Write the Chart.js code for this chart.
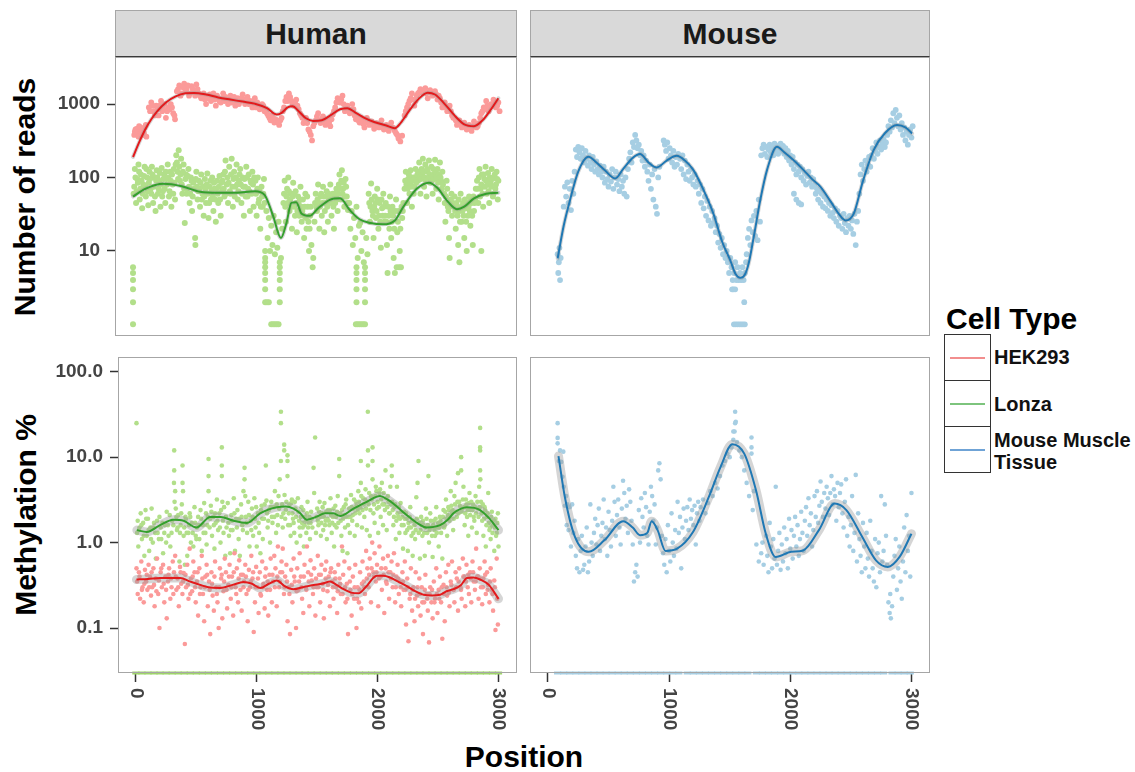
<!DOCTYPE html>
<html>
<head>
<meta charset="utf-8">
<script src="https://cdn.jsdelivr.net/npm/chart.js@4.4.1/dist/chart.umd.min.js"></script>
<style>
  body { margin:0; width:1135px; height:772px; background:#fff; position:relative; overflow:hidden;
         font-family:"Liberation Sans", Arial, Helvetica, sans-serif; font-weight:bold; color:#111; }
  .box { position:absolute; }
  .strip { position:absolute; top:10px; height:47px; box-sizing:border-box; background:#d9d9d9;
           border:1px solid #a6a6a6; border-bottom:1px solid #3a3a3a; font-size:30px; line-height:45px;
           text-align:center; color:#1a1a1a; }
  .ttl { position:absolute; font-size:30px; white-space:nowrap; color:#000; }
  .rot { transform:translate(-50%,-50%) rotate(-90deg); }
  .key { position:absolute; left:944px; width:47px; height:47px; box-sizing:border-box; border:1px solid #333; }
  .key i { position:absolute; left:5px; right:5px; top:22px; height:2px; }
  .lab { position:absolute; left:994px; font-size:20px; line-height:22px; white-space:nowrap; color:#111; }
</style>
</head>
<body>
<div class="strip" style="left:115px;width:402px">Human</div>
<div class="strip" style="left:530px;width:400px">Mouse</div>
<div class="ttl rot" style="left:25px;top:197px">Number of reads</div>
<div class="ttl rot" style="left:26px;top:515px">Methylation %</div>
<div class="ttl" style="left:524px;top:757px;transform:translate(-50%,-50%)">Position</div>

<div class="ttl" style="left:946px;top:302px">Cell Type</div>
<div class="key" style="top:334px"><i style="background:#f28e8e"></i></div>
<div class="key" style="top:380px"><i style="background:#7dc47d"></i></div>
<div class="key" style="top:426px"><i style="background:#6fa3d6"></i></div>
<div class="lab" style="top:346px">HEK293</div>
<div class="lab" style="top:393px">Lonza</div>
<div class="lab" style="top:429px">Mouse Muscle<br>Tissue</div>

<div class="box" style="left:20px;top:57px;width:497px;height:279px"><canvas id="tl"></canvas></div>
<div class="box" style="left:530px;top:57px;width:400px;height:279px"><canvas id="tr"></canvas></div>
<div class="box" style="left:20px;top:357px;width:497px;height:416px"><canvas id="bl"></canvas></div>
<div class="box" style="left:530px;top:357px;width:400px;height:416px"><canvas id="br"></canvas></div>

<script>
// tick labels
const posTicks = [0, 1000, 2000, 3000];
const readTicks = [10, 100, 1000];
const readTickLabels = ['10', '100', '1000'];
const methTicks = [0.1, 1, 10, 100];
const methTickLabels = ['0.1', '1.0', '10.0', '100.0'];

// Number of reads, Human / HEK293  [position, reads]
const hekReads = [[10,380],[20,450],[35,400],[50,500],[65,420],[80,380],[95,480],[110,360],
  [130,900],[150,1050],[170,800],[190,950],[210,700],[230,1100],[250,850],[270,650],[290,900],[310,1000],[330,750],[345,620],
  [360,1500],[380,1800],[400,1400],[420,1900],[440,1600],[460,1300],[480,1750],[500,1500],[520,1850],[540,1400],
  [560,1200],[580,1400],[600,1000],[620,1300],[640,1100],[660,1400],[680,950],[700,1200],[720,1050],[740,1400],[760,1250],
  [780,1000],[800,1300],[820,1150],[840,950],[860,1200],[880,1100],[900,1350],[920,1000],
  [940,1250],[960,1100],[980,900],[1000,1200],[1020,1050],[1040,850],[1060,1000],[1080,800],
  [1100,750],[1120,650],[1140,700],[1160,560],[1180,600],[1200,520],[1220,650],
  [1240,900],[1260,1250],[1280,1400],[1300,1100],[1320,950],[1340,1150],[1360,850],
  [1380,700],[1400,550],[1420,650],[1440,450],[1460,380],[1470,320],[1480,500],
  [1500,600],[1520,750],[1540,550],[1560,680],[1580,520],[1600,620],[1620,500],[1640,720],
  [1660,900],[1680,1200],[1700,1050],[1720,1300],[1740,800],[1760,950],[1780,750],[1800,1000],[1820,700],
  [1840,650],[1860,560],[1880,600],[1900,480],[1920,650],[1940,520],[1960,580],[1980,460],
  [2000,550],[2020,480],[2040,600],[2060,450],[2080,520],[2100,430],[2120,560],[2140,470],[2160,400],
  [2180,340],[2195,310],[2210,370],
  [2250,900],[2270,1100],[2290,1400],[2310,950],[2330,1300],
  [2360,1600],[2380,1400],[2400,1650],[2420,1200],[2440,1550],[2460,1300],[2480,1500],[2500,1150],
  [2520,1200],[2540,900],[2560,1050],[2580,800],[2600,950],[2620,700],
  [2640,650],[2660,520],[2680,600],[2700,480],[2720,560],[2740,450],
  [2760,520],[2780,430],[2800,580],[2820,480],[2840,550],
  [2860,750],[2880,900],[2900,1100],[2920,800],[2940,1000],[2960,1150],[2980,900],[3000,1050],[3010,800],
  [15,420],[30,460],[45,360],[60,480],[75,430],[90,400],[105,520],[140,800],[160,950],[180,700],[200,850],[220,950],
  [240,800],[260,1000],[280,800],[300,850],[320,900],[340,700],[370,1600],[390,1300],[410,1700],[430,1500],[450,1800],
  [470,1400],[490,1600],[510,1300],[530,1600],[550,1300],[570,1300],[590,1150],[610,1200],[630,1350],[650,1250],
  [670,1150],[690,1300],[710,1100],[730,1200],[750,1100],[770,1150],[790,1200],[810,1050],[830,1250],[850,1100],
  [870,1000],[890,1200],[910,1150],[930,1100],[950,1000],[970,1050],[990,1100],[1010,900],[1030,950],[1050,900],
  [1070,950],[1090,850],[1110,700],[1130,600],[1150,650],[1170,620],[1190,560],[1210,600],[1230,800],[1250,1100],
  [1270,1100],[1290,1250],[1310,1000],[1330,1050],[1350,950],[1370,750],[1390,650],[1410,600],[1430,550],[1450,420],
  [1490,550],[1510,680],[1530,600],[1550,620],[1570,580],[1590,560],[1610,560],[1630,620],[1650,800],[1670,1050],
  [1690,1100],[1710,1150],[1730,1000],[1750,850],[1770,850],[1790,800],[1810,850],[1830,620],[1850,600],[1870,650],
  [1890,540],[1910,560],[1930,600],[1950,540],[1970,520],[1990,500],[2010,520],[2030,540],[2050,500],[2070,480],
  [2090,470],[2110,500],[2130,480],[2150,430],[2170,380],[2230,700],[2240,800],[2260,1000],[2280,1200],[2300,1150],
  [2320,1100],[2340,1400],[2350,1450],[2370,1500],[2390,1500],[2410,1400],[2430,1450],[2450,1400],[2470,1400],
  [2490,1350],[2510,1300],[2530,1050],[2550,1000],[2570,900],[2590,850],[2610,800],[2630,650],[2650,600],[2670,560],
  [2690,540],[2710,500],[2730,500],[2750,480],[2770,470],[2790,500],[2810,520],[2830,500],[2850,650],[2870,800],
  [2890,850],[2910,950],[2930,900],[2950,950],[2970,1000],[2990,950]];

const hekReadsFit = [[0,190],[50,300],[100,450],[150,620],[200,800],[270,1050],[350,1270],[430,1400],[500,1420],
  [600,1350],[700,1230],[800,1150],[900,1080],[1000,1010],[1100,880],[1180,720],[1220,760],[1270,900],[1310,930],
  [1360,800],[1420,640],[1480,590],[1550,600],[1620,700],[1700,850],[1760,880],[1830,760],[1900,650],[1980,570],
  [2080,510],[2150,470],[2200,560],[2270,820],[2340,1150],[2420,1430],[2480,1350],[2560,1000],[2640,700],
  [2720,530],[2800,500],[2870,600],[2940,850],[3000,1200]];

// Number of reads, Human / Lonza
const lonzaReads = [[0,6],[0,5],[0,4],[0,3],[0,2],[0,1],
  [5,60],[15,130],[25,45],[35,95],[45,150],[55,50],[65,110],[75,38],[85,80],[95,140],[105,55],[115,100],[125,42],[135,120],
  [145,70],[155,140],[165,45],[175,100],[185,35],[195,125],[205,60],[215,90],[225,40],[235,135],[245,65],[255,110],[265,45],
  [275,95],[285,150],[295,55],[305,120],[315,40],[325,80],[335,130],[345,50],
  [355,200],[365,120],[375,235],[385,90],[395,180],[405,60],[415,150],[425,24],[435,110],
  [445,70],[455,130],[465,45],[475,100],[485,35],[495,85],[510,15],[512,12],[520,120],[530,50],[540,90],
  [550,40],[560,110],[570,60],[580,30],[590,95],[600,45],[610,113],[620,28],[630,75],[640,50],[650,100],[660,35],
  [670,70],[680,25],[690,90],[700,45],[710,105],[720,30],[730,65],
  [740,110],[750,55],[760,170],[770,80],[780,45],[790,140],[800,60],[810,180],[820,40],[830,120],[840,75],[850,150],[860,50],[870,90],
  [880,130],[890,45],[900,100],[910,30],[920,75],[930,140],[940,55],[950,110],[960,35],[970,85],[980,120],[990,40],
  [1005,90],[1015,30],[1025,100],[1035,50],[1045,20],[1055,75],[1065,40],[1075,95],
  [1085,10],[1085,8],[1085,7],[1085,6],[1085,5],[1085,4],[1085,3],[1085,2],[1100,2],[1115,2],
  [1135,1],[1150,1],[1165,1],[1180,1],[1195,1],[1205,7],[1205,6],[1205,5],[1205,4],[1205,3],[1205,2],
  [1095,35],[1105,15],[1115,28],[1125,10],[1135,22],[1145,12],[1155,30],[1165,9],[1175,18],[1185,11],[1195,25],[1215,8],[1225,20],
  [1235,45],[1245,90],[1255,25],[1265,70],[1275,100],[1285,35],[1295,60],[1305,20],[1315,85],[1325,40],[1335,65],[1345,18],[1355,55],[1365,30],
  [1375,75],[1385,25],[1395,50],[1405,15],[1415,60],[1425,20],[1435,40],[1445,10],[1455,30],[1465,12],[1475,6],[1480,8],
  [1490,25],[1500,60],[1510,35],[1520,80],[1530,20],[1540,55],[1550,30],[1560,75],[1570,18],[1580,45],[1590,65],[1600,25],
  [1610,50],[1620,80],[1630,30],[1640,60],[1650,20],[1660,45],[1670,70],[1680,35],
  [1695,110],[1705,50],[1715,125],[1725,70],[1735,40],[1745,95],[1755,55],[1765,36],
  [1775,45],[1785,20],[1795,35],[1805,12],[1815,28],[1825,15],[1835,40],[1845,8],[1855,22],
  [1835,6],[1835,5],[1835,4],[1835,3],[1835,2],[1905,6],[1905,5],[1905,4],[1905,3],[1905,2],
  [1830,1],[1845,1],[1860,1],[1875,1],[1890,1],[1905,1],
  [1865,24],[1875,10],[1885,18],[1895,7],[1915,15],[1925,9],
  [1935,60],[1945,25],[1955,83],[1965,35],[1975,15],[1985,55],[1995,28],[2005,70],[2015,20],[2025,45],[2035,11],[2045,38],[2055,60],
  [2065,25],[2075,45],[2085,12],[2090,5],[2100,30],[2110,55],[2120,15],[2130,40],[2140,8],[2150,5],[2160,50],[2165,6],
  [2170,18],[2180,35],[2185,6],[2190,10],[2200,6],[2210,28],[2220,45],
  [2230,70],[2240,120],[2250,45],[2260,95],[2270,60],[2280,125],[2290,40],[2300,100],[2310,75],[2320,130],
  [2340,90],[2350,160],[2360,60],[2370,130],[2380,180],[2390,75],[2400,150],[2410,55],[2420,120],[2430,170],[2440,85],
  [2450,140],[2460,60],[2470,110],[2480,175],[2490,70],[2500,130],[2510,50],[2520,160],[2530,90],[2540,120],
  [2555,60],[2565,25],[2575,90],[2585,40],[2595,15],[2600,8],[2610,50],[2620,30],
  [2640,55],[2650,20],[2660,40],[2670,12],[2680,35],[2680,7],[2690,60],[2700,25],[2710,45],[2720,15],[2730,38],[2740,10],
  [2750,30],[2760,55],[2770,22],[2780,45],[2790,12],[2800,35],[2810,50],[2860,10],
  [2825,90],[2835,45],[2845,130],[2855,70],[2865,110],[2875,40],[2885,95],[2895,140],[2905,60],[2915,115],[2925,45],
  [2935,85],[2945,130],[2955,55],[2965,100],[2975,70],[2985,120],[2995,50],[3000,90],
  [10,75],[20,100],[30,65],[40,85],[50,120],[60,70],[70,90],[80,60],[90,105],[100,75],[110,130],[120,65],[130,85],
  [140,95],[150,60],[160,110],[170,75],[180,55],[190,90],[200,100],[210,70],[220,115],[230,80],[240,55],[250,95],
  [260,70],[270,120],[280,80],[290,100],[300,65],[310,90],[320,110],[330,60],[340,85],[350,150],
  [360,160],[370,95],[380,140],[390,110],[400,80],[410,120],[420,70],[430,95],[440,60],[450,105],[460,75],[470,60],
  [480,90],[490,55],[500,70],[515,95],[525,75],[535,65],[545,70],[555,85],[565,50],[575,75],[585,55],[595,70],
  [605,80],[615,60],[625,45],[635,90],[645,65],[655,55],[665,85],[675,50],[685,70],[695,60],[705,75],[715,50],
  [725,85],[735,90],[745,70],[755,120],[765,60],[775,100],[785,85],[795,65],[805,110],[815,75],[825,95],[835,55],
  [845,100],[855,80],[865,65],[875,110],[885,80],[895,60],[905,75],[915,95],[925,55],[935,100],[945,70],[955,65],
  [965,90],[975,60],[985,80],[995,100],[1010,60],[1020,70],[1030,45],[1040,65],[1050,40],[1060,55],[1070,60],[1080,45],
  [1240,60],[1250,40],[1260,55],[1270,45],[1280,65],[1290,50],[1300,40],[1310,55],[1320,60],[1330,30],[1340,45],
  [1350,35],[1360,45],[1370,50],[1380,40],[1390,35],[1400,30],[1410,40],[1420,28],[1430,55],[1440,25],[1450,20],
  [1460,40],[1495,45],[1505,40],[1515,50],[1525,45],[1535,40],[1545,60],[1555,45],[1565,55],[1575,35],[1585,55],
  [1595,40],[1605,60],[1615,45],[1625,55],[1635,45],[1645,40],[1655,60],[1665,55],[1675,50],[1685,60],[1690,80],
  [1700,70],[1710,90],[1720,60],[1730,85],[1740,55],[1750,75],[1760,45],
  [1940,45],[1950,40],[1960,50],[1970,30],[1980,40],[1990,45],[2000,35],[2010,50],[2020,30],[2030,25],[2040,50],
  [2050,30],[2060,40],[2070,30],[2080,25],[2095,40],[2105,20],[2115,35],[2125,25],[2135,30],[2145,20],[2155,35],
  [2175,25],[2195,20],[2205,40],[2215,35],
  [2235,90],[2245,80],[2255,70],[2265,110],[2275,85],[2285,75],[2295,90],[2305,60],[2315,100],[2325,85],[2335,110],
  [2345,120],[2355,100],[2365,95],[2375,110],[2385,120],[2395,100],[2405,90],[2415,130],[2425,95],[2435,110],
  [2445,100],[2455,90],[2465,130],[2475,95],[2485,120],[2495,100],[2505,85],[2515,110],[2525,100],[2535,70],
  [2545,80],[2560,45],[2570,55],[2580,70],[2590,35],[2605,40],[2615,60],[2625,45],[2635,40],[2645,35],[2655,45],
  [2665,30],[2675,50],[2685,25],[2695,40],[2705,35],[2715,30],[2725,50],[2735,25],[2745,45],[2755,40],[2765,35],
  [2775,50],[2785,30],[2795,55],[2805,45],[2815,70],[2830,70],[2840,100],[2850,55],[2860,80],[2870,60],[2880,110],
  [2890,75],[2900,90],[2910,80],[2920,65],[2930,100],[2940,75],[2950,95],[2960,60],[2970,110],[2980,80],[2990,95]];

const lonzaReadsFit = [[0,55],[100,70],[250,82],[400,76],[550,64],[700,62],[850,62],[1000,65],[1080,58],[1150,30],
  [1215,15],[1260,24],[1300,45],[1340,46],[1385,32],[1450,30],[1520,38],[1620,50],[1700,52],[1780,36],[1860,27],
  [1950,24],[2050,23],[2150,26],[2220,40],[2330,70],[2430,85],[2500,72],[2580,48],[2660,37],[2720,40],[2800,52],
  [2900,60],[3000,62]];

// Number of reads, Mouse / Mouse Muscle Tissue
const mouseReads = [[80,9],[85,5],[90,7],[95,11],[100,4],[105,8],
  [130,40],[140,75],[150,55],[160,86],[170,45],[180,70],[190,36],[200,90],[210,60],[220,120],
  [230,240],[240,190],[250,260],[260,220],[270,180],[280,250],[290,200],[300,160],[310,230],[320,180],[330,145],
  [340,200],[350,160],[360,130],[370,190],[380,150],[390,120],[400,165],[410,130],[420,110],[430,145],[440,120],
  [450,100],[460,140],[470,85],[480,120],[490,95],[500,75],[510,110],[520,88],[530,130],[540,70],[550,100],[560,120],
  [570,80],[580,95],[590,65],[600,110],[610,75],[620,90],[630,60],[640,100],[650,55],
  [660,130],[670,180],[680,220],[690,160],[700,300],[710,260],[720,380],[730,320],[740,250],[750,280],[760,200],
  [770,230],[780,170],[790,200],[800,140],[810,170],
  [820,120],[830,90],[840,150],[850,70],[860,110],[870,50],[880,130],[890,40],[900,32],[910,100],[920,140],
  [955,320],[965,280],[975,230],[985,300],[995,180],[1005,250],[1015,200],[1025,160],[1035,230],[1045,140],
  [1055,190],[1065,150],[1075,210],
  [1090,180],[1100,130],[1110,200],[1120,110],[1130,170],[1140,95],[1150,150],[1160,120],[1170,90],[1180,130],
  [1190,100],[1200,80],[1210,110],[1220,75],
  [1235,90],[1245,60],[1255,80],[1265,45],[1275,70],[1285,38],[1295,55],[1305,30],[1315,48],[1325,26],[1335,40],
  [1345,22],[1355,35],[1365,24],
  [1375,28],[1385,18],[1395,22],[1405,13],[1415,17],[1425,11],[1435,15],[1445,9],[1455,12],[1465,8],[1475,10],
  [1485,7],[1495,5],[1505,8],[1515,6],[1525,4],[1535,5],[1545,7],[1555,4],[1565,6],[1575,4],[1585,5],[1595,4],
  [1605,6],[1615,4],[1625,5],[1635,7],
  [1520,3],[1530,3],[1545,3],[1620,2],[1535,1],[1550,1],[1565,1],[1580,1],[1595,1],[1610,1],[1625,1],
  [1640,9],[1650,15],[1660,20],[1670,12],[1680,26],[1690,18],[1700,30],[1710,16],[1720,35],[1730,14],[1740,50],[1750,25],
  [1760,200],[1770,250],[1780,280],[1790,210],[1800,260],[1810,190],[1820,240],[1830,280],[1840,220],[1850,260],
  [1860,200],[1870,290],[1880,230],[1890,270],[1900,210],[1910,250],[1920,290],[1930,230],[1940,270],[1950,210],
  [1960,250],[1970,190],
  [1980,230],[1990,170],[2000,200],[2010,150],[2020,190],[2030,130],[2040,160],[2050,110],[2060,150],[2070,120],
  [2080,140],[2090,100],[2100,130],[2110,90],[2120,115],[2130,80],[2140,105],[2150,120],[2160,85],[2170,100],
  [2180,75],[2190,95],[2030,60],[2050,50],[2070,45],[2090,43],
  [2200,80],[2210,60],[2220,70],[2230,50],[2240,65],[2250,45],[2260,60],[2270,40],[2280,55],[2290,38],[2300,50],
  [2310,35],[2320,45],[2330,30],[2340,42],[2350,33],[2360,28],[2370,38],[2380,25],[2390,35],[2400,22],[2410,30],
  [2420,28],[2430,20],[2440,32],[2450,24],[2460,18],[2470,28],[2480,22],[2490,30],[2500,20],[2510,26],[2520,17],
  [2530,32],[2540,12],[2550,25],[2560,35],
  [2570,60],[2580,110],[2590,150],[2600,90],[2610,130],[2620,170],[2630,120],[2640,150],[2650,190],[2660,140],
  [2670,200],[2680,250],[2690,180],[2700,230],[2710,300],[2720,210],[2730,260],[2740,320],[2750,240],[2760,280],
  [2770,330],[2780,260],[2790,300],
  [2800,380],[2810,500],[2820,420],[2830,600],[2840,480],[2850,750],[2860,550],[2870,830],[2880,650],[2890,500],
  [2900,700],[2910,450],[2920,550],[2930,380],[2940,480],[2950,320],[2960,420],[2970,280],[2980,380],[2990,450],
  [3000,350],[3010,500]];

const mouseReadsFit = [[80,7.9],[130,22],[182,49],[250,120],[333,191],[400,160],[470,125],[554,97],[620,130],
  [700,185],[760,208],[830,160],[898,137],[980,170],[1063,197],[1130,170],[1201,126],[1280,70],[1366,32],
  [1440,13],[1504,7.5],[1550,4.8],[1587,4.3],[1620,4.6],[1656,6.7],[1700,16],[1752,49],[1810,130],[1890,262],
  [1950,220],[2030,170],[2110,126],[2180,95],[2248,75],[2330,48],[2400,32],[2455,26],[2523,32],[2600,90],
  [2688,236],[2780,400],[2881,518],[2950,480],[3005,398]];

// Methylation %, Human / Lonza  [position, percent]
const lonzaMeth = [[5,25],[10,1.3],[15,1.8],[20,0.9],[30,1.5],[40,2.2],[50,1.1],[60,1.7],[70,0.7],[80,2.4],[90,1.2],
  [100,1.9],[110,0.8],[120,1.5],[130,2.5],[140,1.0],[150,1.7],[165,0.65],[180,1.3],[195,2.0],[210,1.1],[225,0.75],
  [240,1.6],[255,2.3],[270,1.2],[285,0.9],[300,1.8],[315,5],[317,7],[317,12],[320,3],[325,4],[330,2.5],[340,1.4],
  [350,2.1],[360,0.6],[370,1.6],[380,2.8],[386,5],[386,8],[390,4],[395,1.2],[405,0.55],[415,1.9],[425,0.7],[435,1.3],
  [445,2.2],[455,1.0],[465,1.7],[475,0.9],[485,2.6],[495,1.2],[505,1.5],[515,2.0],[525,1.1],[535,2.4],[545,0.8],
  [555,1.6],[565,2.9],[575,1.3],[585,0.95],[595,2.0],[601,4],[601,6],[601,9.5],[610,1.5],[620,2.7],[630,1.2],
  [640,2.0],[650,0.85],[660,1.7],[670,3.2],[680,1.4],[690,2.2],[700,1.0],[711,6],[711,8],[711,13],[715,3],[720,1.8],
  [730,2.6],[740,0.7],[750,1.5],[760,2.9],[770,1.2],[780,0.75],[790,2.1],[800,1.4],[810,3.3],[820,0.8],[830,1.9],
  [840,2.4],[850,1.1],[860,0.7],[870,2.8],[880,1.6],[890,4],[899,7.5],[899,5.5],[905,3.5],[910,2.0],[920,1.3],
  [930,3.0],[940,0.9],[950,1.8],[960,2.5],[970,1.2],[980,3.3],[990,1.5],[1000,0.9],[1010,2.2],[1020,1.3],[1030,0.75],
  [1040,2.7],[1050,1.1],[1060,1.9],[1075,8],[1080,3.1],[1090,1.5],[1100,2.4],[1110,1.0],[1120,3.0],[1130,1.7],
  [1140,2.6],[1150,4.0],[1160,1.3],[1170,2.1],[1180,3.5],[1190,5.5],[1200,9],[1200,25],[1200,34],[1205,2.0],
  [1215,1.5],[1227,12],[1227,14],[1230,3.6],[1240,2.4],[1254,6],[1254,9],[1254,10.5],[1260,1.6],[1270,2.8],
  [1280,1.2],[1290,3.2],[1300,1.9],[1310,1.3],[1320,2.5],[1330,1.0],[1340,3.3],[1350,1.8],[1360,1.2],[1370,2.6],
  [1380,1.5],[1390,0.9],[1400,2.0],[1410,1.3],[1420,3.0],[1430,1.7],[1440,1.1],[1450,2.3],[1460,1.5],[1470,7.5],
  [1475,3.8],[1483,17],[1490,1.3],[1500,2.5],[1510,1.6],[1520,3.0],[1530,1.2],[1540,2.2],[1550,1.4],[1560,2.9],
  [1570,1.8],[1580,1.1],[1590,2.4],[1600,1.6],[1610,3.3],[1620,1.3],[1630,2.0],[1640,0.9],[1650,2.7],[1660,1.5],
  [1670,3.5],[1682,9.5],[1682,6],[1690,2.2],[1700,1.2],[1710,0.8],[1720,2.6],[1730,1.5],[1740,3.2],[1750,0.75],
  [1760,2.0],[1770,1.3],[1780,3.6],[1790,1.8],[1800,2.5],[1810,1.2],[1820,3.0],[1830,1.6],[1840,4.0],[1850,2.2],
  [1861,9],[1861,5],[1870,1.5],[1880,3.3],[1890,2.0],[1900,4.2],[1910,1.4],[1919,34],[1920,12],[1920,8],[1925,2.8],
  [1935,1.2],[1945,3.5],[1958,13],[1958,9],[1958,5.5],[1965,2.2],[1975,1.7],[1985,4.5],[1995,2.5],[2005,1.3],
  [2015,3.8],[2025,2.0],[2035,5],[2045,1.6],[2055,2.8],[2065,7],[2075,1.4],[2085,3.5],[2095,2.2],[2105,4.5],
  [2117,6],[2117,8],[2120,3],[2130,1.6],[2140,2.6],[2150,1.1],[2160,4.5],[2170,2.0],[2180,1.3],[2190,2.9],
  [2200,1.6],[2210,0.85],[2220,2.3],[2230,1.3],[2240,1.9],[2250,0.8],[2260,1.5],[2270,2.6],[2280,1.2],[2290,0.7],
  [2300,1.8],[2310,1.1],[2320,3.4],[2330,5],[2338,9],[2340,1.3],[2350,0.65],[2360,2.0],[2370,1.2],[2380,1.6],
  [2390,0.7],[2400,2.5],[2410,1.3],[2420,6],[2425,1.0],[2435,2.2],[2445,1.5],[2455,0.68],[2465,1.8],[2475,1.2],
  [2485,2.6],[2495,1.5],[2505,0.9],[2515,2.0],[2525,1.3],[2535,0.65],[2545,2.4],[2555,1.6],[2565,3.2],[2575,1.2],
  [2585,2.6],[2595,1.8],[2605,4.0],[2615,2.2],[2625,1.4],[2635,3.5],[2645,5.0],[2655,2.0],[2665,6.5],[2675,3.0],
  [2691,10],[2691,7],[2700,2.5],[2710,4.5],[2720,1.6],[2730,3.2],[2740,2.0],[2750,1.2],[2760,3.8],[2770,2.4],
  [2780,1.5],[2790,2.8],[2800,1.8],[2810,3.5],[2820,1.3],[2830,2.5],[2840,4.5],[2848,22],[2848,12],[2848,13],
  [2848,7],[2850,5.5],[2855,3],[2865,1.8],[2875,1.2],[2885,2.6],[2895,0.9],[2905,2.0],[2915,3.8],[2925,1.4],
  [2935,1.1],[2945,2.3],[2955,1.6],[2965,0.8],[2975,1.9],[2985,1.3],[2995,2.2],[3000,0.9],
  [25,1.4],[45,1.6],[65,1.2],[85,1.9],[105,1.4],[125,1.1],[145,1.5],[160,1.3],[175,1.8],[190,1.1],[205,1.5],
  [220,1.7],[235,1.3],[250,1.0],[265,1.6],[280,2.1],[295,1.3],[310,1.6],[335,2.0],[345,1.5],[365,1.3],[375,2.2],
  [400,1.5],[410,2.0],[420,1.3],[440,1.6],[450,2.0],[470,1.3],[490,1.7],[500,1.1],[520,1.6],[540,1.9],[560,1.3],
  [580,2.2],[590,1.6],[615,1.9],[625,2.3],[645,1.6],[655,2.2],[675,1.8],[695,1.5],[705,2.4],[725,1.3],[745,2.0],
  [765,1.7],[785,1.4],[795,1.8],[815,2.2],[835,1.5],[855,1.9],[875,2.0],[885,1.4],[915,1.7],[935,2.1],[955,1.4],
  [965,2.0],[985,1.9],[995,2.6],[1015,1.7],[1035,2.4],[1045,1.9],[1065,2.8],[1085,2.2],[1095,1.8],[1115,2.6],
  [1125,2.0],[1145,2.0],[1165,2.8],[1175,1.6],[1185,2.5],[1210,2.8],[1220,2.2],[1235,1.9],[1245,3.0],[1265,2.2],
  [1275,1.6],[1285,2.9],[1295,2.2],[1305,1.7],[1315,3.0],[1325,2.0],[1345,2.3],[1355,1.5],[1365,2.0],[1375,1.7],
  [1385,2.4],[1395,1.6],[1405,1.8],[1415,2.2],[1425,1.5],[1435,2.0],[1445,1.7],[1455,1.9],[1495,2.0],[1505,1.8],
  [1515,2.3],[1525,2.0],[1535,1.7],[1545,2.6],[1555,2.0],[1565,1.6],[1575,2.3],[1585,1.9],[1595,1.8],[1605,2.4],
  [1615,2.1],[1625,1.7],[1635,2.5],[1645,1.6],[1655,2.0],[1665,2.3],[1675,1.7],[1695,1.8],[1705,2.4],[1715,1.9],
  [1725,2.1],[1735,2.8],[1745,2.0],[1755,1.6],[1765,2.5],[1775,2.0],[1785,2.6],[1795,2.1],[1805,3.2],[1815,2.2],
  [1825,2.7],[1835,2.4],[1845,3.0],[1855,2.6],[1865,3.5],[1875,2.4],[1885,2.8],[1895,3.2],[1905,2.5],[1915,3.0],
  [1930,3.8],[1940,2.4],[1950,3.2],[1970,2.8],[1980,3.5],[1990,4.0],[2000,3.0],[2010,2.6],[2020,4.2],[2030,3.2],
  [2040,2.8],[2050,3.8],[2060,2.4],[2070,3.3],[2080,2.6],[2090,3.0],[2100,2.2],[2110,2.8],[2125,2.4],[2135,2.0],
  [2145,2.8],[2155,1.8],[2165,2.2],[2175,2.6],[2185,1.9],[2195,2.3],[2205,2.0],[2215,1.6],[2225,1.9],[2235,2.2],
  [2245,1.4],[2255,1.7],[2265,2.0],[2275,1.5],[2285,1.8],[2295,1.3],[2305,1.6],[2315,1.4],[2325,1.9],[2345,1.7],
  [2355,1.4],[2365,1.6],[2375,1.8],[2385,1.3],[2395,1.5],[2405,1.9],[2415,1.6],[2430,1.4],[2440,1.8],[2450,1.2],
  [2460,1.6],[2470,1.4],[2480,1.9],[2490,1.3],[2500,1.7],[2510,1.5],[2520,1.8],[2530,1.6],[2540,2.0],[2550,1.5],
  [2560,2.3],[2570,1.9],[2580,2.1],[2590,2.4],[2600,2.0],[2610,2.7],[2620,2.4],[2630,1.9],[2640,2.8],[2650,2.3],
  [2660,3.0],[2670,2.2],[2680,2.7],[2695,2.3],[2705,3.2],[2715,2.6],[2725,2.2],[2735,2.8],[2745,2.4],[2755,2.9],
  [2765,2.1],[2775,3.0],[2785,2.4],[2795,2.0],[2805,2.6],[2815,2.2],[2825,3.0],[2835,2.0],[2845,2.6],[2860,2.2],
  [2870,2.8],[2880,1.9],[2890,2.4],[2900,1.6],[2910,2.2],[2920,1.7],[2930,1.5],[2940,2.0],[2950,1.3],[2960,1.8],
  [2970,1.5],[2980,1.2],[2990,1.7]];

// positions where Lonza methylation is 0 (drawn on the lower edge)
const lonzaMethZeros = [0,50,100,150,200,250,300,350,400,450,500,550,600,650,700,750,800,850,900,950,1000,1050,
  1100,1150,1200,1250,1300,1350,1400,1450,1500,1550,1600,1650,1700,1750,1800,1850,1900,1950,2000,2050,2100,2150,
  2200,2250,2300,2350,2400,2450,2500,2550,2600,2650,2700,2750,2800,2850,2900,2950,3000];

const lonzaMethFit = [[8,1.4],[90,1.33],[200,1.6],[310,1.85],[395,1.8],[500,1.5],[615,2.0],[700,2.0],[808,1.8],
  [918,1.7],[1028,2.2],[1100,2.45],[1166,2.6],[1240,2.65],[1304,2.5],[1360,2.2],[1414,1.85],[1490,2.0],[1566,2.2],
  [1630,2.2],[1690,2.05],[1800,2.5],[1910,3.0],[2020,3.5],[2080,3.2],[2131,2.85],[2200,2.35],[2269,1.95],[2340,1.65],
  [2407,1.5],[2517,1.6],[2580,1.85],[2627,2.2],[2690,2.5],[2738,2.6],[2800,2.55],[2848,2.4],[2920,1.95],[3000,1.4]];

// Methylation %, Human / HEK293
const hekMeth = [[5,0.5],[15,0.25],[25,0.45],[35,0.22],[45,0.6],[55,0.3],[65,0.2],[75,0.48],[85,0.35],[95,0.28],
  [105,0.55],[115,0.4],[125,0.24],[135,0.3],[145,0.5],[155,0.18],[165,0.38],[175,0.65],[185,0.25],[195,0.1],
  [205,0.45],[215,0.3],[225,0.55],[235,0.2],[245,0.4],[255,0.13],[265,0.35],[275,0.5],[285,0.22],[295,0.3],
  [305,0.6],[315,0.45],[325,0.7],[335,0.28],[345,0.38],[355,0.18],[365,0.52],[375,0.33],[385,0.25],[395,0.44],
  [405,0.065],[415,0.3],[425,0.55],[435,0.22],[445,0.85],[455,0.38],[465,0.27],[475,0.6],[485,0.45],[495,0.2],
  [505,0.35],[515,0.14],[525,0.5],[535,0.3],[545,0.7],[555,0.25],[565,0.12],[575,0.4],[585,0.55],[595,0.18],
  [605,0.35],[615,0.085],[625,0.45],[635,0.24],[645,0.16],[655,0.6],[665,0.3],[675,0.2],[685,0.1],[695,0.5],
  [705,0.38],[715,0.13],[725,0.27],[735,0.65],[745,0.45],[755,0.17],[765,0.32],[775,0.55],[785,0.22],[795,0.4],
  [805,0.14],[815,0.75],[825,0.3],[835,0.5],[845,0.2],[855,0.62],[865,0.28],[875,0.16],[885,0.42],[895,0.35],
  [905,0.55],[915,0.25],[925,0.12],[935,0.48],[945,0.3],[955,0.7],[965,0.38],[975,0.09],[985,0.2],[995,0.52],
  [1005,0.3],[1015,0.15],[1025,0.45],[1035,0.24],[1045,0.6],[1055,0.33],[1065,0.17],[1075,0.5],[1085,0.28],
  [1095,0.14],[1105,0.42],[1115,0.65],[1125,0.2],[1135,0.35],[1145,0.7],[1155,0.5],[1165,0.18],[1175,0.9],
  [1185,0.3],[1195,0.45],[1205,0.6],[1215,0.85],[1225,0.25],[1235,0.4],[1245,0.55],[1255,0.12],[1265,0.3],
  [1275,0.085],[1285,0.48],[1295,0.2],[1305,0.65],[1315,0.35],[1325,0.1],[1335,0.5],[1345,0.28],[1355,0.75],
  [1365,0.4],[1375,0.22],[1385,0.15],[1395,0.55],[1405,0.3],[1415,0.9],[1425,0.45],[1435,0.18],[1445,0.62],
  [1455,0.36],[1465,0.25],[1475,0.5],[1485,0.14],[1495,0.3],[1505,0.7],[1515,0.42],[1525,0.2],[1535,0.55],
  [1545,0.33],[1555,0.13],[1565,0.48],[1575,0.6],[1585,0.27],[1595,0.4],[1605,0.18],[1615,0.5],[1625,0.35],
  [1635,0.22],[1645,0.45],[1655,0.3],[1665,0.15],[1675,0.55],[1685,0.38],[1695,0.25],[1705,0.9],[1715,0.42],
  [1725,0.6],[1735,0.2],[1745,0.33],[1755,0.085],[1765,0.5],[1775,0.28],[1785,0.14],[1795,0.4],[1805,0.22],
  [1815,0.55],[1825,0.1],[1835,0.3],[1845,0.2],[1855,0.45],[1865,0.17],[1875,0.6],[1885,0.35],[1895,0.25],
  [1905,0.8],[1915,0.5],[1925,0.3],[1935,0.65],[1945,0.2],[1955,1.0],[1965,0.45],[1975,0.75],[1985,0.35],
  [1995,0.55],[2005,0.18],[2015,0.9],[2025,0.4],[2035,0.28],[2045,0.65],[2055,0.15],[2065,0.5],[2075,0.33],
  [2085,0.7],[2095,0.22],[2105,0.45],[2115,0.6],[2125,0.3],[2135,0.75],[2145,0.2],[2155,0.4],[2165,0.55],
  [2175,0.25],[2185,0.35],[2195,0.18],[2205,0.45],[2215,0.28],[2225,0.6],[2235,0.11],[2245,0.38],[2255,0.07],
  [2265,0.22],[2275,0.5],[2285,0.16],[2295,0.3],[2305,0.12],[2315,0.45],[2325,0.24],[2335,0.18],[2345,0.38],
  [2355,0.14],[2365,0.3],[2375,0.085],[2385,0.2],[2395,0.42],[2405,0.25],[2415,0.16],[2425,0.068],[2435,0.3],
  [2445,0.2],[2455,0.13],[2465,0.35],[2475,0.22],[2485,0.5],[2495,0.15],[2505,0.28],[2515,0.4],[2525,0.2],
  [2535,0.075],[2545,0.32],[2555,0.12],[2565,0.45],[2575,0.24],[2585,0.55],[2595,0.18],[2605,0.35],[2615,0.6],
  [2625,0.28],[2635,0.2],[2645,0.45],[2655,0.38],[2665,0.16],[2675,0.5],[2685,0.3],[2695,0.22],[2705,0.65],
  [2715,0.4],[2725,0.18],[2735,0.55],[2745,0.3],[2755,0.25],[2765,0.45],[2775,0.2],[2785,0.6],[2795,0.35],
  [2805,0.28],[2815,0.85],[2825,0.4],[2835,0.22],[2845,0.5],[2855,0.3],[2865,0.19],[2875,0.38],[2885,0.6],
  [2895,0.25],[2905,0.45],[2915,0.32],[2925,0.2],[2935,0.5],[2945,0.28],[2955,0.16],[2965,0.36],[2975,0.095],
  [2985,0.65],[2995,0.11],
  [10,0.35],[30,0.4],[50,0.28],[70,0.33],[90,0.42],[110,0.3],[130,0.45],[150,0.32],[170,0.27],[190,0.36],[210,0.5],
  [230,0.33],[250,0.28],[270,0.42],[290,0.38],[310,0.25],[330,0.4],[350,0.3],[370,0.45],[390,0.35],[410,0.42],
  [430,0.32],[450,0.25],[470,0.4],[490,0.3],[510,0.45],[530,0.25],[550,0.38],[570,0.3],[590,0.42],[610,0.28],
  [630,0.33],[650,0.4],[670,0.25],[690,0.3],[710,0.42],[730,0.35],[750,0.28],[770,0.4],[790,0.3],[810,0.45],
  [830,0.25],[850,0.38],[870,0.42],[890,0.3],[910,0.4],[930,0.28],[950,0.35],[970,0.45],[990,0.3],[1010,0.38],
  [1030,0.25],[1050,0.3],[1070,0.4],[1090,0.35],[1110,0.28],[1130,0.42],[1150,0.3],[1170,0.4],[1190,0.35],
  [1210,0.45],[1230,0.3],[1250,0.35],[1270,0.25],[1290,0.32],[1310,0.4],[1330,0.27],[1350,0.35],[1370,0.3],
  [1390,0.4],[1410,0.28],[1430,0.35],[1450,0.42],[1470,0.3],[1490,0.38],[1510,0.3],[1530,0.42],[1550,0.28],
  [1570,0.38],[1590,0.32],[1610,0.45],[1630,0.3],[1650,0.38],[1670,0.27],[1690,0.33],[1710,0.25],[1730,0.3],
  [1750,0.22],[1770,0.35],[1790,0.25],[1810,0.3],[1830,0.22],[1850,0.28],[1870,0.33],[1890,0.3],[1910,0.38],
  [1930,0.42],[1950,0.5],[1970,0.4],[1990,0.45],[2010,0.38],[2030,0.5],[2050,0.42],[2070,0.35],[2090,0.45],
  [2110,0.38],[2130,0.42],[2150,0.3],[2170,0.38],[2190,0.3],[2210,0.35],[2230,0.28],[2250,0.3],[2270,0.25],
  [2290,0.28],[2310,0.22],[2330,0.3],[2350,0.25],[2370,0.2],[2390,0.28],[2410,0.22],[2430,0.25],[2450,0.28],
  [2470,0.2],[2490,0.25],[2510,0.22],[2530,0.3],[2550,0.25],[2570,0.3],[2590,0.26],[2610,0.32],[2630,0.28],
  [2650,0.3],[2670,0.35],[2690,0.28],[2710,0.4],[2730,0.35],[2750,0.42],[2770,0.38],[2790,0.45],[2810,0.35],
  [2830,0.4],[2850,0.38],[2870,0.3],[2890,0.42],[2910,0.28],[2930,0.35],[2950,0.25],[2970,0.3],[2990,0.22]];

const hekMethFit = [[5,0.37],[100,0.375],[200,0.385],[367,0.385],[450,0.35],[532,0.32],[600,0.3],[698,0.295],
  [800,0.32],[890,0.345],[960,0.33],[1028,0.295],[1100,0.33],[1166,0.36],[1230,0.31],[1304,0.285],[1380,0.3],
  [1470,0.32],[1540,0.33],[1607,0.35],[1660,0.32],[1718,0.285],[1780,0.26],[1842,0.255],[1900,0.3],[1993,0.41],
  [2050,0.41],[2104,0.39],[2170,0.35],[2241,0.31],[2310,0.27],[2380,0.245],[2450,0.24],[2517,0.245],[2570,0.27],
  [2627,0.285],[2690,0.32],[2738,0.385],[2790,0.39],[2848,0.37],[2920,0.32],[3000,0.22]];

// Methylation %, Mouse / Mouse Muscle Tissue
const mouseMeth = [[80,25],[80,16.8],[80,14.5],[90,9],[100,12],[110,8.8],[120,5.9],[127,11.6],[130,4.5],[140,2.7],
  [150,3.5],[155,1.6],[160,2.8],[170,1.4],[180,2.6],[190,0.9],[200,2.8],[210,1.3],[220,1.8],[230,0.7],[240,0.5],
  [250,1.1],[260,0.45],[270,0.8],[280,1.2],[290,0.48],[300,0.55],[310,0.9],[320,1.5],[330,0.45],[340,0.6],[350,2.8],
  [360,1.0],[370,0.7],[380,1.3],[390,1.9],[400,0.95],[410,1.6],[420,2.5],[430,0.8],[440,1.2],[450,1.7],[460,3.2],
  [470,1.1],[480,1.5],[490,0.7],[500,2.3],[510,1.4],[520,0.9],[530,1.8],[540,4.5],[550,3],[560,1.2],[570,2.1],
  [580,3.2],[590,1.5],[600,0.95],[610,2.5],[620,5.3],[630,3.8],[640,1.9],[650,2.7],[660,1.3],[670,4.2],[680,3.0],
  [690,1.8],[700,0.95],[710,0.35],[720,0.45],[730,0.55],[740,0.4],[750,2.4],[760,1.0],[770,3.3],[780,2.0],[790,1.5],
  [800,3.8],[810,2.6],[820,1.2],[830,0.95],[840,2.3],[850,4.5],[860,3.5],[870,1.8],[880,2.8],[890,0.95],[900,1.5],
  [910,7],[920,8.5],[930,5.5],[940,1.2],[950,0.75],[960,0.55],[970,1.1],[980,0.45],[990,1.6],[1000,0.8],[1010,0.6],
  [1020,2.2],[1030,1.0],[1040,0.7],[1050,1.4],[1060,0.85],[1070,3.0],[1080,1.3],[1090,2.0],[1100,0.5],[1110,1.5],
  [1120,2.5],[1130,1.1],[1140,1.8],[1150,2.6],[1160,1.4],[1170,3.2],[1180,1.9],[1190,2.4],[1200,1.6],[1210,2.7],
  [1220,0.95],[1230,2.2],[1240,3.0],[1250,1.8],[1260,2.6],[1280,3.2],[1300,2.2],[1320,2.9],[1340,4.0],[1360,3.5],
  [1380,5],[1400,4.3],[1420,6],[1440,8],[1460,9],[1480,11],[1500,10],[1515,13],[1530,16],[1530,20],[1540,20],
  [1545,25],[1545,34],[1550,26],[1560,15],[1580,12],[1600,10],[1620,7],[1640,5],[1660,3.5],[1680,17],[1680,13],
  [1680,11],[1690,2.4],[1700,4],[1720,0.95],[1740,0.6],[1760,0.75],[1770,1.0],[1780,0.55],[1800,1.2],[1810,0.7],
  [1820,0.45],[1830,1.7],[1840,0.9],[1850,0.5],[1860,1.1],[1870,0.65],[1880,4.5],[1890,0.55],[1900,0.8],[1910,1.3],
  [1920,0.48],[1930,0.95],[1940,0.6],[1950,1.5],[1960,0.75],[1970,1.1],[1980,0.5],[1990,1.9],[2000,0.85],[2010,1.4],
  [2020,0.65],[2030,1.2],[2040,2.0],[2050,0.9],[2060,1.6],[2070,0.7],[2080,1.1],[2090,2.3],[2100,1.3],[2110,0.8],
  [2120,1.8],[2130,2.6],[2140,1.2],[2150,3.3],[2160,1.6],[2170,2.2],[2180,0.9],[2190,1.4],[2200,3.5],[2210,2.0],
  [2220,4.0],[2230,1.7],[2240,2.7],[2250,5.2],[2260,3.0],[2270,2.0],[2280,3.8],[2290,2.5],[2300,4.5],[2310,3.3],
  [2320,2.1],[2330,3.8],[2340,6],[2350,2.8],[2360,4.2],[2370,3.5],[2380,1.8],[2390,5],[2400,2.6],[2410,3.8],
  [2420,4.8],[2430,2.2],[2440,1.5],[2450,3.0],[2460,5.5],[2470,1.2],[2480,2.0],[2490,0.9],[2500,1.6],[2510,3.5],
  [2520,0.8],[2530,1.3],[2540,6.2],[2550,0.6],[2560,2.2],[2570,1.1],[2580,0.7],[2590,0.45],[2600,1.7],[2610,0.9],
  [2620,0.5],[2630,1.3],[2640,0.65],[2650,0.4],[2660,1.8],[2670,0.8],[2680,0.5],[2690,0.35],[2700,1.1],[2710,0.3],
  [2720,0.75],[2730,1.0],[2740,0.45],[2750,3.5],[2760,0.6],[2770,0.8],[2780,2.8],[2790,1.2],[2800,0.55],[2810,0.2],
  [2820,0.15],[2825,0.25],[2830,0.13],[2840,0.18],[2850,0.4],[2860,0.7],[2870,1.1],[2880,0.28],[2890,0.5],[2900,0.9],
  [2910,0.35],[2920,0.22],[2930,0.6],[2940,1.5],[2950,0.45],[2960,2.1],[2970,0.8],[2980,1.2],[2990,0.4],[3000,3.8]];

const mouseMethZeros = [80,130,180,230,280,330,380,430,480,530,580,630,680,730,780,830,880,930,980,1030,1080,
  1150,1200,1250,1300,1350,1400,1450,1500,1550,1600,1650,1720,1770,1820,1870,1920,1970,2020,2070,2120,2170,
  2220,2270,2320,2370,2420,2470,2520,2570,2620,2670,2720,2770,2840,2890,2940,2990];

const mouseMethFit = [[87,10.3],[140,3.4],[223,1.17],[337,0.78],[467,1.07],[620,1.78],[700,1.5],[760,1.22],
  [820,1.3],[856,1.78],[905,1.4],[970,0.8],[1066,0.85],[1197,1.33],[1327,3.4],[1425,7.7],[1522,14.2],[1620,11],
  [1717,4.1],[1798,1.27],[1879,0.68],[2008,0.78],[2107,0.81],[2236,1.4],[2366,2.86],[2463,2.4],[2593,1.17],
  [2707,0.62],[2805,0.52],[2902,0.68],[3000,1.27]];

// shared scale ranges of the facets
const POS_MIN = -148, POS_MAX = 3153;
const READS_MIN = 0.693, READS_MAX = 4375;
const METH_MIN = 0.0298, METH_MAX = 148.6;

const FONT = '"Liberation Sans", Arial, Helvetica, sans-serif';
Chart.defaults.font.family = FONT;

const pts = a => a.map(([x, y]) => ({ x, y }));

const frame = {
  id: 'frame',
  afterDatasetsDraw(chart) {
    const { ctx, chartArea: a } = chart;
    ctx.save();
    ctx.strokeStyle = '#a6a6a6'; ctx.lineWidth = 1;
    ctx.strokeRect(a.left + 0.5, a.top + 0.5, a.right - a.left - 1, a.bottom - a.top - 1);
    ctx.restore();
  }
};

// x tick labels turned a quarter clockwise, as in the original
const posLabels = {
  id: 'posLabels',
  afterDraw(chart, args, opts) {
    if (!opts.show) return;
    const { ctx, chartArea } = chart, sx = chart.scales.x;
    ctx.save();
    ctx.font = 'bold 19px ' + FONT;
    ctx.fillStyle = '#444';
    ctx.textAlign = 'left'; ctx.textBaseline = 'middle';
    posTicks.forEach(v => {
      ctx.save();
      ctx.translate(sx.getPixelForValue(v), chartArea.bottom + 15);
      ctx.rotate(Math.PI / 2);
      ctx.fillText(String(v), 0, 0);
      ctx.restore();
    });
    ctx.restore();
  }
};

const dots = (data, color, r, order) => ({ data: pts(data), backgroundColor: color, borderWidth: 0,
  pointRadius: r, pointHoverRadius: r, order });
// zero values sit on the lower edge of the log panel; short dashes so they join into a line
const zeros = (xs, yMin, color) => ({ data: xs.map(x => ({ x, y: yMin })), pointStyle: 'line',
  borderColor: color, backgroundColor: color, borderWidth: 3, pointRadius: 3.6, order: 5,
  clip: { left: 4, right: 4, top: 0, bottom: 3 } });
const fit = (data, color) => ({ data: pts(data), showLine: true, borderColor: color, borderWidth: 2,
  pointRadius: 0, cubicInterpolationMode: 'monotone', order: 0 });
const band = (data, w) => ({ data: pts(data), showLine: true, borderColor: 'rgba(150,150,150,0.4)', borderWidth: w,
  pointRadius: 0, cubicInterpolationMode: 'monotone', order: 1, borderCapStyle: 'round' });

function panel(id, datasets, o) {
  return new Chart(document.getElementById(id), {
    type: 'scatter',
    data: { datasets },
    options: {
      responsive: true, maintainAspectRatio: false, animation: false, events: [],
      layout: { padding: 0, autoPadding: false },
      plugins: { legend: { display: false }, tooltip: { enabled: false }, posLabels: { show: o.xAxis } },
      scales: {
        x: {
          type: 'linear', min: POS_MIN, max: POS_MAX, display: o.xAxis,
          afterBuildTicks: s => { s.ticks = posTicks.map(v => ({ value: v })); },
          afterFit: s => { s.height = o.xAxis ? 100 : 0; s.paddingLeft = 0; s.paddingRight = 0; },
          grid: { drawOnChartArea: false, tickLength: 9, tickColor: '#333', tickWidth: 1.5 },
          border: { display: false },
          ticks: { display: false }
        },
        y: {
          type: 'logarithmic', min: o.yMin, max: o.yMax, display: o.yWidth > 0,
          afterBuildTicks: s => { s.ticks = o.yTicks.map(v => ({ value: v })); },
          afterFit: s => { s.width = o.yWidth; s.paddingTop = 0; s.paddingBottom = 0; },
          grid: { drawOnChartArea: false, tickLength: 8, tickColor: '#333', tickWidth: 1.5 },
          border: { display: false },
          ticks: { font: { size: 19, weight: 'bold' }, color: '#444', padding: 7,
                   callback: (v, i) => o.yLabels[i] }
        }
      }
    },
    plugins: [frame, posLabels]
  });
}

const readsY = { yMin: READS_MIN, yMax: READS_MAX, yTicks: readTicks, yLabels: readTickLabels };
const methY = { yMin: METH_MIN, yMax: METH_MAX, yTicks: methTicks, yLabels: methTickLabels };

panel('tl', [
  fit(hekReadsFit, '#E31A1C'), fit(lonzaReadsFit, '#33A02C'),
  band(hekReadsFit, 4), band(lonzaReadsFit, 4),
  dots(hekReads, '#FB9A99', 2.9, 2), dots(lonzaReads, '#B2DF8A', 3, 3)
], { ...readsY, xAxis: false, yWidth: 95 });

panel('tr', [
  fit(mouseReadsFit, '#1F78B4'), band(mouseReadsFit, 4),
  dots(mouseReads, '#A6CEE3', 2.9, 2)
], { ...readsY, xAxis: false, yWidth: 0 });

panel('bl', [
  fit(hekMethFit, '#E31A1C'), fit(lonzaMethFit, '#33A02C'),
  band(hekMethFit, 9), band(lonzaMethFit, 9),
  dots(hekMeth, '#FB9A99', 2.3, 2), dots(lonzaMeth, '#B2DF8A', 2.3, 3),
  zeros(lonzaMethZeros, METH_MIN, '#9fd46a')
], { ...methY, xAxis: true, yWidth: 98 });

panel('br', [
  fit(mouseMethFit, '#1F78B4'), band(mouseMethFit, 9),
  dots(mouseMeth, '#A6CEE3', 2.3, 2),
  zeros(mouseMethZeros, METH_MIN, '#A6CEE3')
], { ...methY, xAxis: true, yWidth: 0 });
</script>
</body>
</html>
